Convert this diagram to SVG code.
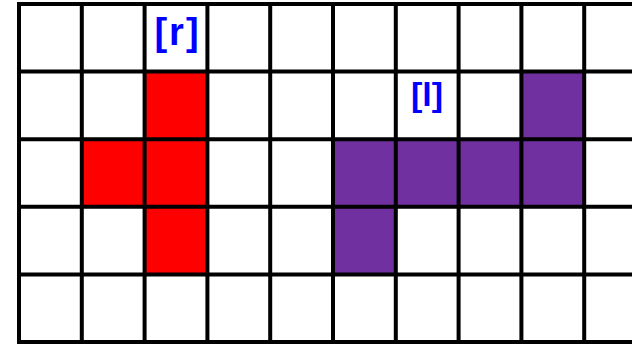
<svg xmlns="http://www.w3.org/2000/svg" width="632" height="346" viewBox="0 0 632 346">
<style>
.red{fill:#ff0000}
.pur{fill:#7030a0}
.grid line{stroke:#000;stroke-width:4}
.lbl{font-family:"Liberation Sans",Arial,sans-serif;font-weight:bold;fill:#0000ff;text-anchor:middle}
</style>
<rect width="632" height="346" fill="#fff"/>
<g id="red-piece">
<rect class="red" x="144.6" y="71.6" width="62.8" height="67.6"/>
<rect class="red" x="81.8" y="139.2" width="62.8" height="67.6"/>
<rect class="red" x="144.6" y="139.2" width="62.8" height="67.6"/>
<rect class="red" x="144.6" y="206.8" width="62.8" height="67.6"/>
</g>
<g id="purple-piece">
<rect class="pur" x="521.4" y="71.6" width="62.8" height="67.6"/>
<rect class="pur" x="333" y="139.2" width="251.2" height="67.6"/>
<rect class="pur" x="333" y="206.8" width="62.8" height="67.6"/>
</g>
<g class="grid" id="grid">
<line x1="19" y1="2" x2="19" y2="344"/>
<line x1="81.8" y1="2" x2="81.8" y2="344"/>
<line x1="144.6" y1="2" x2="144.6" y2="344"/>
<line x1="207.4" y1="2" x2="207.4" y2="344"/>
<line x1="270.2" y1="2" x2="270.2" y2="344"/>
<line x1="333" y1="2" x2="333" y2="344"/>
<line x1="395.8" y1="2" x2="395.8" y2="344"/>
<line x1="458.6" y1="2" x2="458.6" y2="344"/>
<line x1="521.4" y1="2" x2="521.4" y2="344"/>
<line x1="584.2" y1="2" x2="584.2" y2="344"/>
<line x1="17" y1="4" x2="632" y2="4"/>
<line x1="17" y1="71.6" x2="632" y2="71.6"/>
<line x1="17" y1="139.2" x2="632" y2="139.2"/>
<line x1="17" y1="206.8" x2="632" y2="206.8"/>
<line x1="17" y1="274.4" x2="632" y2="274.4"/>
<line x1="17" y1="342" x2="632" y2="342"/>
</g>
<g id="labels">
<text class="lbl" x="177.5" y="45" font-size="38" letter-spacing="2">[r]</text>
<text class="lbl" x="427" y="106" font-size="34">[l]</text>
</g>
</svg>
